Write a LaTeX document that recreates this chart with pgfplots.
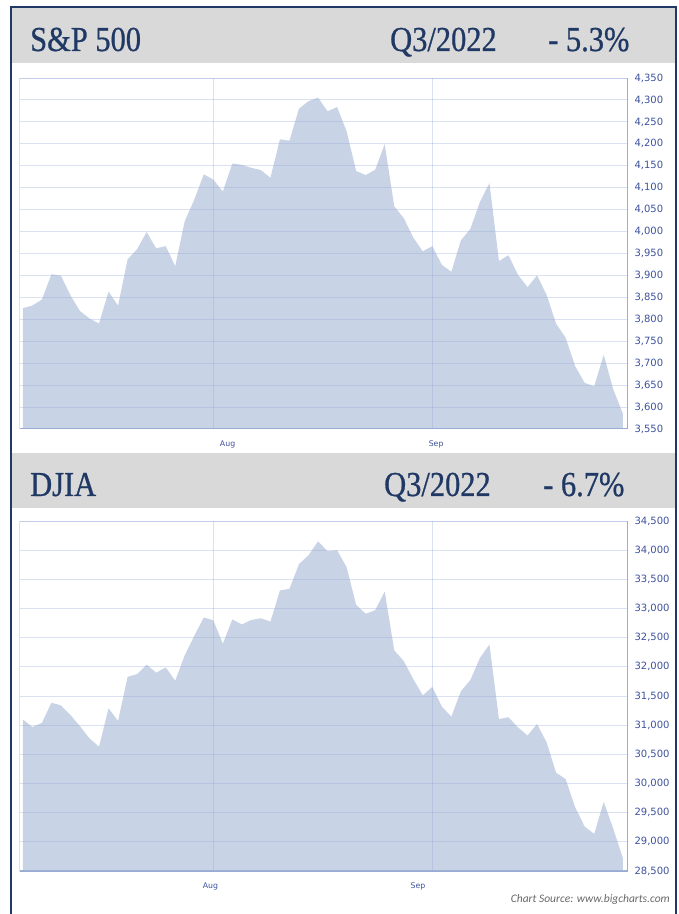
\documentclass[border=0pt]{standalone}
\usepackage{pgfplots}
\pgfplotsset{compat=1.18}
\usepackage{fontspec}
\newfontfamily\hdrfont[FakeStretch=0.87,FakeBold=0.7]{Liberation Serif}
\newfontfamily\tickfont{DejaVu Sans}
\newfontfamily\srcfont{Carlito}
\definecolor{navy}{RGB}{31,56,100}
\definecolor{hdrgray}{RGB}{217,217,217}
\definecolor{areacol}{RGB}{200,211,230}
\definecolor{gridblue}{RGB}{150,170,215}
\definecolor{axiscol}{RGB}{160,176,212}
\definecolor{ticklab}{RGB}{62,82,158}
\definecolor{srcgray}{RGB}{105,105,105}

\pgfplotsset{
  mychart/.style={
    scale only axis, anchor=south west,
    width=608pt,
    xmin=-0.3, xmax=63.55,
    clip=true,
    axis on top,
    axis line style={draw=gridblue, opacity=0.35, line width=1pt},
    major tick length=0pt,
    ymajorgrids,
    grid style={draw=gridblue, opacity=0.35, line width=1pt},
    yticklabel pos=right,
    scaled y ticks=false,
    /pgf/number format/assume math mode=true,
    /pgf/number format/1000 sep={,},
    yticklabel style={font=\tickfont\fontsize{10}{11}\selectfont, text=ticklab, anchor=west, xshift=3pt},
    xticklabel style={font=\tickfont\fontsize{7.8}{9}\selectfont, text=ticklab, yshift=-8pt},
    extra x ticks={20,43},
    extra x tick labels={},
    extra x tick style={grid=major},
  }
}

\begin{document}
\begin{tikzpicture}[x=1pt,y=1pt]
\path[use as bounding box] (0,0) rectangle (679,914);
\fill[white] (0,0) rectangle (679,914);
\fill[hdrgray] (11,851) rectangle (676,906);
\fill[hdrgray] (11,406) rectangle (676,461);
\draw[navy, line width=2pt] (11,-1) -- (11,907) -- (676,907) -- (676,-1);

\node[anchor=base west, text=navy, font=\hdrfont\fontsize{35}{40}\selectfont, inner sep=0] at (30,863) {S\&P 500};
\node[anchor=base west, text=navy, font=\hdrfont\fontsize{35}{40}\selectfont, inner sep=0] at (390,863) {Q3/2022};
\node[anchor=base west, text=navy, font=\hdrfont\fontsize{35}{40}\selectfont, inner sep=0] at (548,863) {- 5.3\%};
\node[anchor=base west, text=navy, font=\hdrfont\fontsize{35}{40}\selectfont, inner sep=0] at (30,418) {DJIA};
\node[anchor=base west, text=navy, font=\hdrfont\fontsize{35}{40}\selectfont, inner sep=0] at (384,418) {Q3/2022};
\node[anchor=base west, text=navy, font=\hdrfont\fontsize{35}{40}\selectfont, inner sep=0] at (543,418) {- 6.7\%};

\begin{axis}[mychart, at={(20pt,485pt)}, height=351pt,
  ymin=3550, ymax=4350, ytick={3550,3600,...,4350},
  xtick={21.5,43.4}, xticklabels={Aug,Sep}]
\addplot[draw=none, fill=areacol] coordinates {
(0,3825.33) (1,3831.39) (2,3845.08) (3,3902.62) (4,3899.38) (5,3854.43) (6,3818.80) (7,3801.78) (8,3790.38) (9,3863.16)
(10,3830.85) (11,3936.69) (12,3959.90) (13,3998.95) (14,3961.63) (15,3966.84) (16,3921.05) (17,4023.61) (18,4072.43) (19,4130.29)
(20,4118.63) (21,4091.19) (22,4155.17) (23,4151.94) (24,4145.19) (25,4140.06) (26,4122.47) (27,4210.24) (28,4207.27) (29,4280.15)
(30,4297.14) (31,4305.20) (32,4274.04) (33,4283.74) (34,4228.48) (35,4137.99) (36,4128.73) (37,4140.77) (38,4199.12) (39,4057.66)
(40,4030.61) (41,3986.16) (42,3955.00) (43,3966.85) (44,3924.26) (45,3908.19) (46,3979.87) (47,4006.18) (48,4067.36) (49,4110.41)
(50,3932.69) (51,3946.01) (52,3901.35) (53,3873.33) (54,3899.89) (55,3855.93) (56,3789.93) (57,3757.99) (58,3693.23) (59,3655.04)
(60,3647.29) (61,3719.04) (62,3640.47) (63,3585.62)
} \closedcycle;
\draw[axiscol, line width=1.6pt] (rel axis cs:0,0) -- (rel axis cs:1,0) -- (rel axis cs:1,1);
\end{axis}

\begin{axis}[mychart, at={(20pt,43pt)}, height=350pt,
  ymin=28500, ymax=34500, ytick={28500,29000,...,34500},
  xtick={19.7,41.5}, xticklabels={Aug,Sep}]
\addplot[draw=none, fill=areacol] coordinates {
(0,31097.26) (1,30967.82) (2,31037.68) (3,31384.55) (4,31338.15) (5,31173.84) (6,30981.33) (7,30772.79) (8,30630.17) (9,31288.26)
(10,31072.61) (11,31827.05) (12,31874.84) (13,32036.90) (14,31899.29) (15,31990.04) (16,31761.54) (17,32197.59) (18,32529.63) (19,32845.13)
(20,32798.40) (21,32396.17) (22,32812.50) (23,32726.82) (24,32803.47) (25,32832.54) (26,32774.41) (27,33309.51) (28,33336.67) (29,33761.05)
(30,33912.44) (31,34152.01) (32,33980.32) (33,33999.04) (34,33706.74) (35,33063.61) (36,32909.59) (37,32969.23) (38,33291.78) (39,32283.40)
(40,32098.99) (41,31790.87) (42,31510.43) (43,31656.42) (44,31318.44) (45,31145.30) (46,31581.28) (47,31774.52) (48,32151.71) (49,32381.34)
(50,31104.97) (51,31135.09) (52,30961.82) (53,30822.42) (54,31019.68) (55,30706.23) (56,30183.78) (57,30076.68) (58,29590.41) (59,29260.81)
(60,29134.99) (61,29683.74) (62,29225.61) (63,28725.51)
} \closedcycle;
\draw[axiscol, line width=1.6pt] (rel axis cs:0,0) -- (rel axis cs:1,0) -- (rel axis cs:1,1);
\end{axis}

\node[anchor=base east, text=srcgray, font=\srcfont\itshape\fontsize{11.5}{12}\selectfont, inner sep=0] at (670,11) {Chart Source: www.bigcharts.com};
\end{tikzpicture}
\end{document}
